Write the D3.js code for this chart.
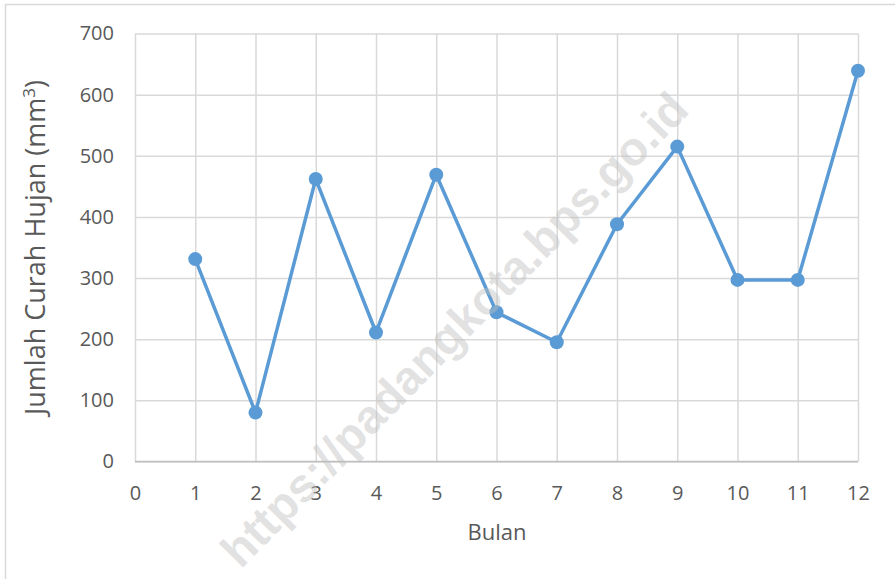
<!DOCTYPE html>
<html>
<head>
<meta charset="utf-8">
<script src="https://cdn.jsdelivr.net/npm/d3@7"></script>
<style>
  body { margin: 0; background: #fff; }
  text { font-family: "Open Sans", "Liberation Sans", sans-serif; fill: #595959; }
</style>
</head>
<body>
<svg id="svg-cart"></svg>
<script>
const bulan = [1, 2, 3, 4, 5, 6, 7, 8, 9, 10, 11, 12];
const curahHujan = [331, 80, 462, 211, 469, 244, 195, 388, 515, 297, 297, 639];
const ticksX = [0, 1, 2, 3, 4, 5, 6, 7, 8, 9, 10, 11, 12];
const ticksY = [0, 100, 200, 300, 400, 500, 600, 700];
const judulX = 'Bulan';
const judulY = 'Jumlah Curah Hujan (mm';
const watermark = 'https://padangkota.bps.go.id';

const w = 895;
const h = 579;
const kiri = 135, kanan = 858, atas = 33.5, bawah = 461.5;

const svg = d3.select('#svg-cart')
  .attr('width', w)
  .attr('height', h);

// bingkai luar
svg.append('rect')
  .attr('x', 5.5).attr('y', 4.5)
  .attr('width', w).attr('height', h)
  .attr('fill', 'none')
  .attr('stroke', '#d9d9d9')
  .attr('stroke-width', 1.5);

const escalaX = d3.scaleLinear().domain([0, 12]).range([kiri, kanan]);
const escalaY = d3.scaleLinear().domain([0, 700]).range([bawah, atas]);

// grid vertikal
svg.append('g')
  .attr('transform', 'translate(0,' + atas + ')')
  .call(d3.axisBottom(escalaX).tickValues(ticksX).tickFormat('').tickSize(bawah - atas))
  .call(g => g.select('.domain').remove())
  .call(g => g.selectAll('line').attr('stroke', '#d9d9d9').attr('stroke-width', 1.5));

// grid horizontal
svg.append('g')
  .attr('transform', 'translate(' + kiri + ',0)')
  .call(d3.axisRight(escalaY).tickValues(ticksY).tickFormat('').tickSize(kanan - kiri))
  .call(g => g.select('.domain').remove())
  .call(g => g.selectAll('line').attr('stroke', '#d9d9d9').attr('stroke-width', 1.5));

// garis sumbu x
svg.append('line')
  .attr('x1', kiri).attr('x2', kanan)
  .attr('y1', escalaY(0)).attr('y2', escalaY(0))
  .attr('stroke', '#bfbfbf')
  .attr('stroke-width', 1.5);

// label sumbu
svg.append('g')
  .attr('transform', 'translate(0,' + bawah + ')')
  .call(d3.axisBottom(escalaX).tickValues(ticksX).tickSize(0).tickPadding(24))
  .call(g => g.select('.domain').remove())
  .selectAll('text')
  .style('font-size', '20px')
  .style('fill', '#595959');

svg.append('g')
  .attr('transform', 'translate(' + kiri + ',0)')
  .call(d3.axisLeft(escalaY).tickValues(ticksY).tickSize(0).tickPadding(21))
  .call(g => g.select('.domain').remove())
  .selectAll('text')
  .style('font-size', '20px')
  .style('fill', '#595959');

svg.append('text')
  .attr('x', 497)
  .attr('y', 540)
  .attr('text-anchor', 'middle')
  .style('font-size', '22px')
  .text(judulX);

const ty = svg.append('text')
  .attr('transform', 'translate(45,' + ((atas + bawah) / 2) + ') rotate(-90)')
  .attr('text-anchor', 'middle')
  .style('font-size', '27px');
ty.append('tspan').text(judulY);
ty.append('tspan').attr('dy', -10).style('font-size', '17px').text('3');
ty.append('tspan').attr('dy', 10).text(')');

// garis data
const linea = d3.line()
  .x((d, i) => escalaX(bulan[i]))
  .y(d => escalaY(d));

svg.append('path')
  .attr('d', linea(curahHujan))
  .style('stroke', '#5b9bd5')
  .style('stroke-width', 3.5)
  .style('stroke-linejoin', 'round')
  .style('fill', 'none');

svg.append('g')
  .selectAll('circle')
  .data(curahHujan)
  .enter()
  .append('circle')
  .attr('cx', (d, i) => escalaX(bulan[i]))
  .attr('cy', d => escalaY(d))
  .attr('r', 7)
  .attr('fill', '#5b9bd5');

// watermark
svg.append('text')
  .attr('transform', 'translate(457,332) rotate(-45.5)')
  .attr('text-anchor', 'middle')
  .attr('dominant-baseline', 'middle')
  .style('font-family', '"Liberation Sans", Arial, sans-serif')
  .style('font-weight', 'bold')
  .style('font-size', '47px')
  .style('fill', 'rgba(190,190,190,0.45)')
  .text(watermark);
</script>
</body>
</html>
